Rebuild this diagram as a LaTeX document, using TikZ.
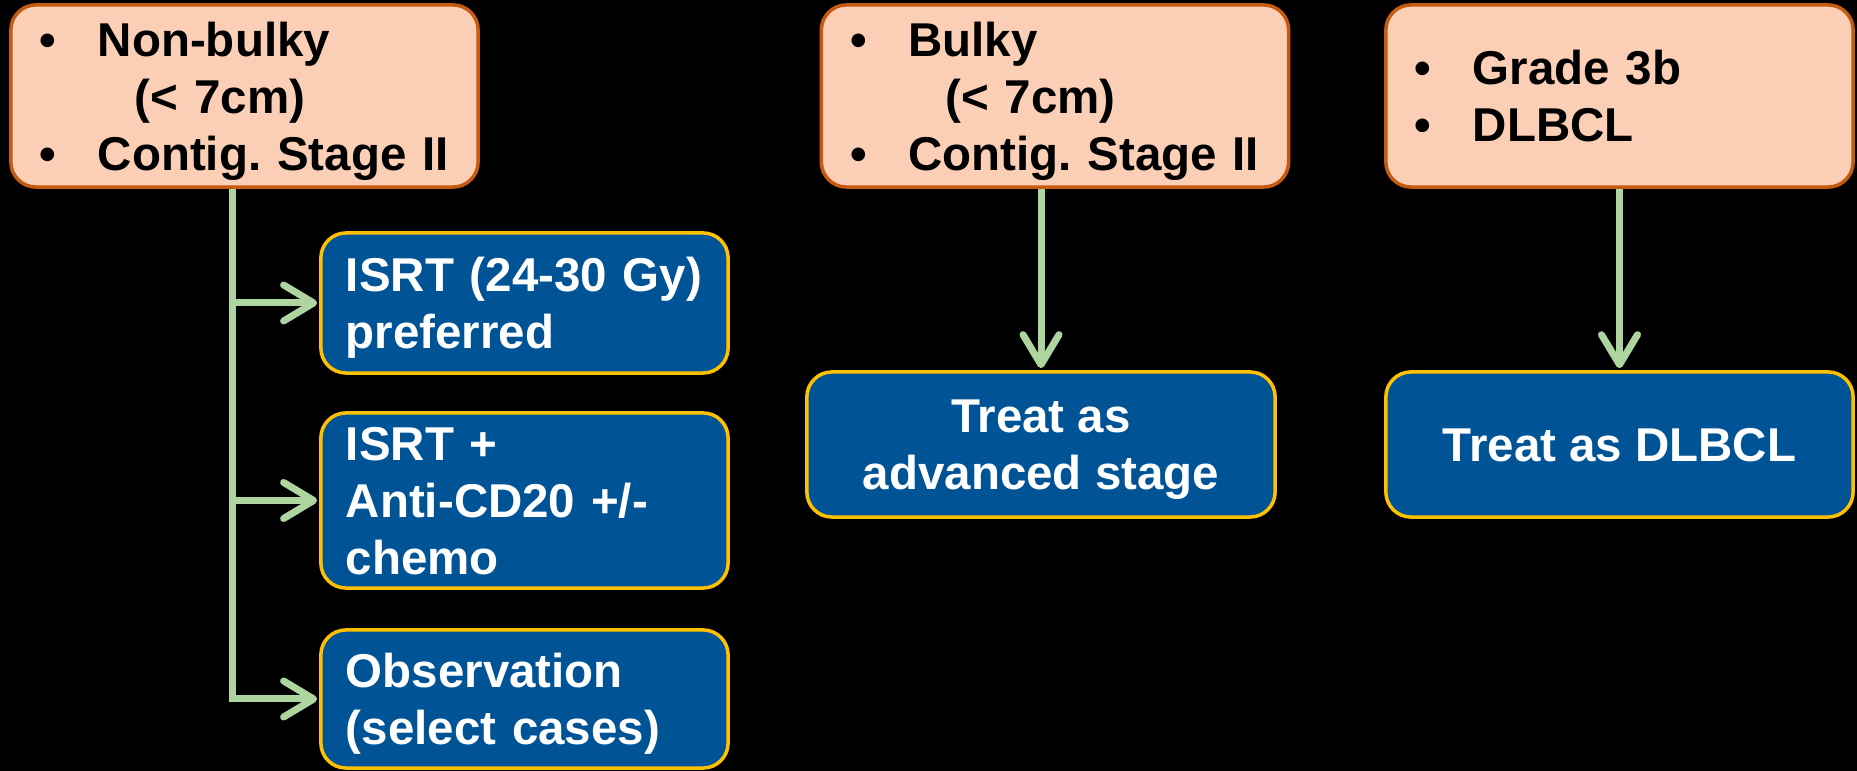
\documentclass[tikz,border=0pt]{standalone}
\usepackage{fontspec}
\setmainfont{Liberation Sans}
\usepackage{tikz}
\usetikzlibrary{arrows.meta}

\definecolor{peach}{RGB}{251,207,181}
\definecolor{rust}{RGB}{197,90,17}
\definecolor{boxblue}{RGB}{0,84,150}
\definecolor{gold}{RGB}{255,192,0}
\definecolor{sage}{RGB}{174,212,160}

\newcommand{\itm}{\makebox[0.58cm][l]{\textbullet}}
\newcommand{\ind}{\hspace*{0.95cm}}

\begin{document}
\begin{tikzpicture}[x=0.01cm,y=-0.01cm,
    cond/.style={draw=rust,fill=peach,line width=0.035cm,rounded corners=0.25cm,align=left,inner xsep=0.29cm,text width=4.09cm,minimum width=4.67cm,minimum height=1.82cm,text depth=32.4pt,font=\fontsize{13.5}{16.2}\selectfont\bfseries\frenchspacing},
    treat/.style={draw=gold,fill=boxblue,text=white,line width=0.035cm,rounded corners=0.25cm,inner xsep=0.25cm,text depth=16.2pt,font=\fontsize{13.5}{16.2}\selectfont\bfseries\frenchspacing},
    treatleft/.style={treat,align=left,text width=3.57cm,minimum width=4.07cm},
    flow/.style={draw=sage,line width=0.07cm,shorten >=0.02cm,-{Straight Barb[length=0.3cm,width=0.36cm,round]}}]
            \useasboundingbox (0,0) rectangle (1857,771);
            \fill[black] (0,0) rectangle (1857,771);

            \node[cond] (nonbulky) at (244.5,96) {\itm Non-bulky\\ \ind(< 7cm)\\ \itm Contig. Stage II};
            \node[cond] (bulky) at (1055,96) {\itm Bulky\\ \ind(< 7cm)\\ \itm Contig. Stage II};
            \node[cond,text depth=16.2pt] (grade) at (1619.5,96) {\itm Grade 3b\\ \itm DLBCL};

            \node[treatleft,minimum height=1.40cm] (isrt) at (524.5,303) {ISRT (24-30 Gy)\\ preferred};
            \node[treatleft,minimum height=1.75cm,text depth=32.4pt] (combo) at (524.5,500.5) {ISRT +\\ Anti-CD20 +/-\\ chemo};
            \node[treatleft,minimum height=1.38cm] (observe) at (524.5,699) {Observation\\ (select cases)};
            \node[treat,align=center,text depth=0pt,minimum width=4.68cm,minimum height=1.45cm] (advanced) at (1041,444.5) {Treat as\\ advanced stage};
            \node[treat,text depth=0pt,minimum width=4.67cm,minimum height=1.45cm] (dlbcl) at (1619.5,444.5) {Treat as DLBCL};

            \coordinate (trunk) at ([xshift=-0.115cm]nonbulky.south);
            \draw[flow] (trunk) |- (isrt.west);
            \draw[flow] (trunk) |- (combo.west);
            \draw[flow] (trunk) |- (observe.west);

            \draw[flow] (bulky.south -| advanced.north) -- (advanced.north);
            \draw[flow] (grade.south) -- (dlbcl.north);
\end{tikzpicture}
\end{document}
